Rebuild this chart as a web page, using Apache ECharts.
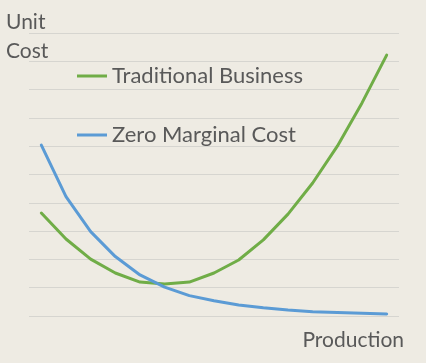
<!DOCTYPE html>
<html>
<head>
<meta charset="utf-8">
<script src="https://cdn.jsdelivr.net/npm/echarts@6/dist/echarts.min.js"></script>
<style>
html,body{margin:0;padding:0;background:#eeebe3;}
#c{width:426px;height:363px;}
</style>
</head>
<body>
<div id="c"></div>
<script>
var categories = ['1','2','3','4','5','6','7','8','9','10','11','12','13','14','15'];
var traditionalBusiness = [3.64, 2.72, 2.01, 1.52, 1.20, 1.13, 1.20, 1.52, 1.98, 2.69, 3.60, 4.70, 6.00, 7.53, 9.22];
var zeroMarginalCost = [6.04, 4.22, 2.98, 2.10, 1.45, 1.02, 0.72, 0.54, 0.39, 0.29, 0.21, 0.15, 0.12, 0.095, 0.07];
var seriesNames = ['Traditional Business', 'Zero Marginal Cost'];
var yAxisTitle = 'Unit\nCost';
var xAxisTitle = 'Production';

var FONT = 'Lato';
var TXT = '#595959';
var chart = echarts.init(document.getElementById('c'), null, {renderer: 'canvas'});
chart.setOption({
  backgroundColor: '#eeebe3',
  animation: false,
  title: {
    text: yAxisTitle,
    left: 6, top: 8, padding: 0,
    textStyle: {fontFamily: FONT, fontSize: 21, fontWeight: 'normal', color: TXT, lineHeight: 29}
  },
  legend: {
    orient: 'vertical',
    left: 77, top: 64,
    padding: 0,
    itemWidth: 30, itemHeight: 3,
    itemGap: 35,
    icon: 'rect',
    data: seriesNames,
    textStyle: {fontFamily: FONT, fontSize: 22, color: TXT, lineHeight: 24}
  },
  grid: {left: 29, right: 27, top: 33, bottom: 47},
  xAxis: {
    type: 'category',
    data: categories,
    boundaryGap: true,
    axisLine: {show: false},
    axisTick: {show: false},
    axisLabel: {show: false},
    name: xAxisTitle,
    nameLocation: 'end',
    nameGap: 5,
    nameTextStyle: {fontFamily: FONT, fontSize: 21, color: TXT, align: 'right', verticalAlign: 'top', padding: [14,0,0,0]}
  },
  yAxis: {
    type: 'value',
    min: 0, max: 10, interval: 1,
    axisLine: {show: false},
    axisTick: {show: false},
    axisLabel: {show: false},
    splitLine: {lineStyle: {color: '#d6d5d0', width: 1}}
  },
  series: [
    {
      name: seriesNames[0], type: 'line', data: traditionalBusiness,
      showSymbol: false, symbol: 'none',
      lineStyle: {color: '#70ad47', width: 3, cap: 'round', join: 'round'},
      itemStyle: {color: '#70ad47'}
    },
    {
      name: seriesNames[1], type: 'line', data: zeroMarginalCost,
      showSymbol: false, symbol: 'none',
      lineStyle: {color: '#5b9bd5', width: 3, cap: 'round', join: 'round'},
      itemStyle: {color: '#5b9bd5'}
    }
  ]
});
</script>
</body>
</html>
